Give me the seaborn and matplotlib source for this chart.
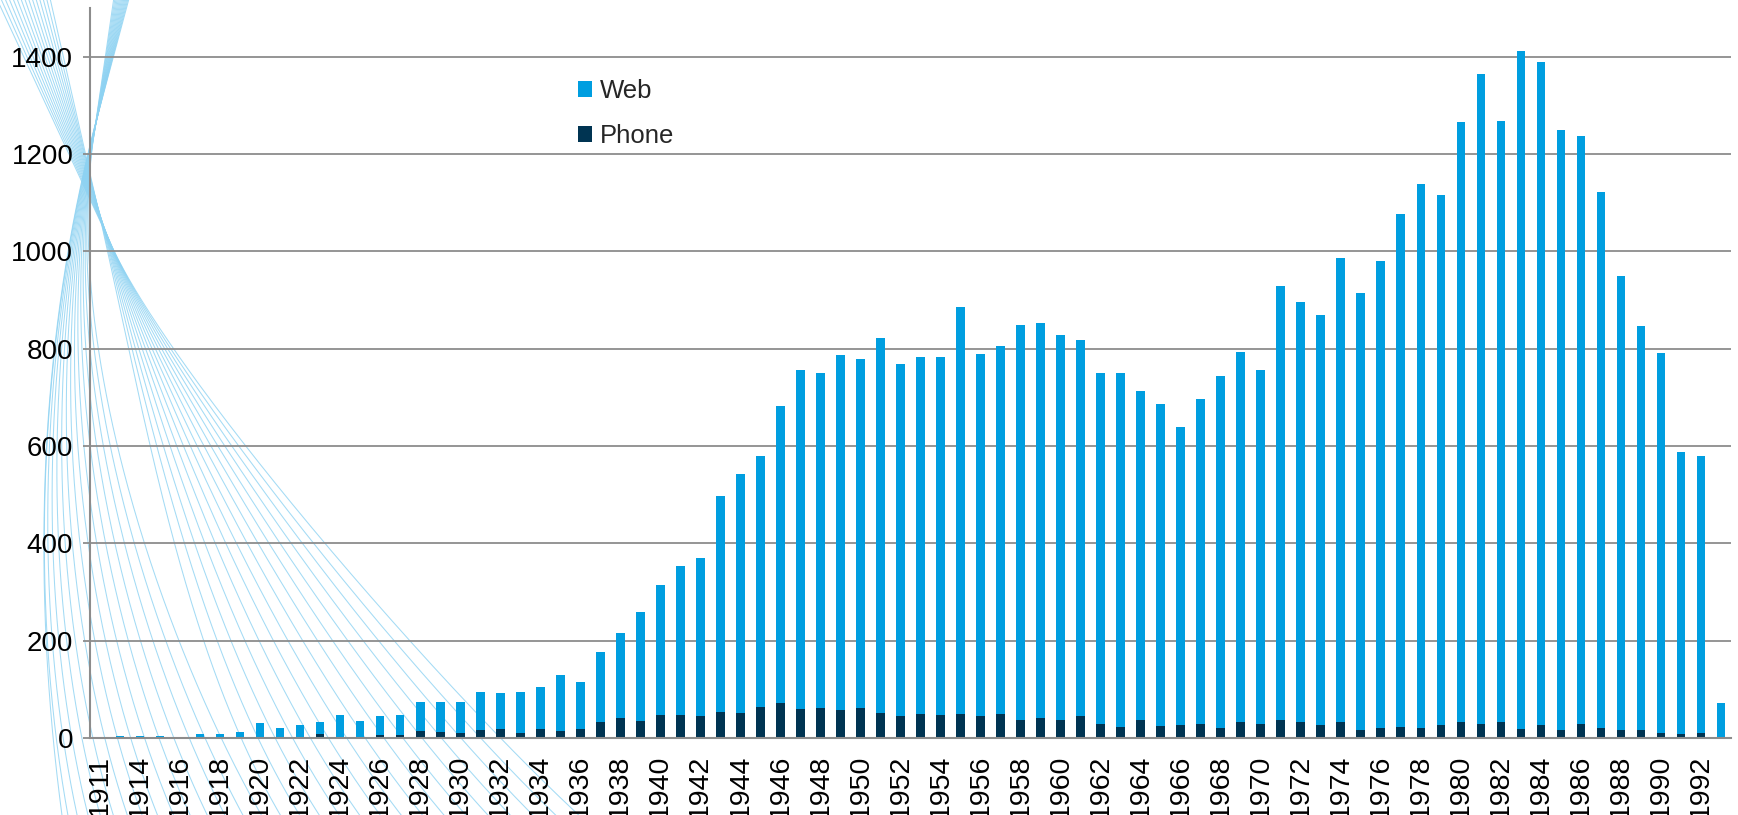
import numpy as np
import pandas as pd
import matplotlib
matplotlib.use("Agg")
import matplotlib.pyplot as plt
import seaborn as sns

# ---------------- data ----------------
years = [1911] + list(range(1913, 1994))
web = [0, 5, 4, 5, 2, 8, 8, 11, 29, 19,
       24, 25, 44, 34, 39, 41, 59, 63, 65, 79,
       75, 85, 85, 115, 97, 144, 173, 225, 268, 306,
       324, 444, 492, 516, 610, 698, 689, 731, 716, 771,
       723, 733, 735, 836, 744, 756, 811, 811, 793, 772,
       721, 728, 678, 662, 614, 669, 722, 761, 729, 893,
       863, 843, 954, 898, 960, 1053, 1118, 1090, 1233, 1337,
       1236, 1393, 1364, 1232, 1209, 1102, 933, 830, 781, 580,
       570, 72]
phone = [0, 0, 0, 0, 0, 0, 0, 1, 1, 1,
         3, 8, 3, 1, 6, 7, 14, 12, 10, 16,
         18, 10, 19, 14, 18, 32, 42, 34, 47, 47,
         45, 53, 51, 64, 72, 59, 61, 57, 62, 51,
         45, 49, 47, 49, 45, 49, 37, 42, 36, 45,
         28, 23, 36, 24, 26, 28, 21, 32, 28, 36,
         32, 26, 32, 16, 20, 23, 21, 26, 32, 28,
         32, 19, 26, 17, 28, 20, 16, 16, 11, 8,
         10, 0]
series_labels = ["Web", "Phone"]
y_ticks = [0, 200, 400, 600, 800, 1000, 1200, 1400]

WEB_C = "#009EE0"
PHONE_C = "#003452"
GRID_C = "#8c8c8c"
DECO_C = "#8dd2f2"

sns.set_theme(style="white")
plt.rcParams["font.family"] = ["Liberation Sans", "DejaVu Sans"]

W, H = 1738, 815
fig = plt.figure(figsize=(W / 100, H / 100), dpi=100)
fig.patch.set_facecolor("white")

# ---------------- decorative background curves (pixel space) ----------------
bg = fig.add_axes([0, 0, 1, 1], zorder=0)
bg.set_xlim(0, W)
bg.set_ylim(H, 0)
bg.axis("off")

def envelope(s):
    q = np.array([92 + 22 * s * s, 161 + 90 * s])
    d = np.array([44 * s, 90.0])
    return q, d / np.linalg.norm(d)

N = 30
t = np.linspace(0, 1, 200)[:, None]
for i in range(N):
    w = i / (N - 1)
    if w < 0.5:
        s = -0.55 + 0.26 * (w / 0.5)
    else:
        s = 0.45 + 0.5 * ((w - 0.5) / 0.5)
    Q, d = envelope(s)
    T = Q - (Q[1] + 20) / d[1] * d
    f = w ** 1.3
    E = np.array([64 + f * 531, 830.0])
    phi = np.radians(8 + 40 * f ** 0.6)
    a = 270 - f * 120
    P1 = Q + a * d
    P2 = E - 200 * np.array([np.sin(phi), np.cos(phi)])
    curve = ((1 - t) ** 3 * Q + 3 * t * (1 - t) ** 2 * P1
             + 3 * t ** 2 * (1 - t) * P2 + t ** 3 * E)
    pts = np.vstack([T[None, :], curve])
    bg.plot(pts[:, 0], pts[:, 1], color=DECO_C, lw=0.75, alpha=0.8)

# ---------------- main chart ----------------
L, R, T_, B_ = 90, 1731, 8, 738
ax = fig.add_axes([L / W, (H - B_) / H, (R - L) / W, (B_ - T_) / H], zorder=1)
ax.patch.set_alpha(0)

df = pd.DataFrame({"year": [str(y) for y in years], "web": web, "phone": phone})
df["total"] = df["web"] + df["phone"]
order = df["year"].tolist()

sns.barplot(data=df, x="year", y="total", order=order, color=WEB_C, saturation=1,
            width=0.43, errorbar=None, linewidth=0, label=series_labels[0], ax=ax)
sns.barplot(data=df, x="year", y="phone", order=order, color=PHONE_C, saturation=1,
            width=0.43, errorbar=None, linewidth=0, label=series_labels[1], ax=ax)

n = len(years)
ax.set_xlim(-0.5, n - 0.5)
ax.set_ylim(0, 1500)
ax.set_xlabel("")
ax.set_ylabel("")

ax.set_yticks(y_ticks)
ax.set_yticklabels([str(v) for v in y_ticks])
ax.yaxis.grid(True, color=GRID_C, lw=1.3)
ax.xaxis.grid(False)
ax.set_axisbelow(True)

major = list(range(0, n, 2))
ax.set_xticks(major)
ax.set_xticklabels([str(years[i]) for i in major], rotation=90)
ax.set_xticks(np.arange(-0.5, n, 1), minor=True)
ax.tick_params(axis="x", which="major", length=0, pad=12, labelsize=20.5, labelcolor="black")
ax.tick_params(axis="x", which="minor", length=6, width=1.3, color=GRID_C, direction="out")
ax.tick_params(axis="y", which="major", length=5, width=1.3, color=GRID_C, pad=7,
               labelsize=20, labelcolor="black", left=True)

for s in ["top", "right"]:
    ax.spines[s].set_visible(False)
for s in ["left", "bottom"]:
    ax.spines[s].set_color(GRID_C)
    ax.spines[s].set_linewidth(1.5)

h, l = ax.get_legend_handles_labels()
leg = ax.legend(h, l, loc="upper left", bbox_to_anchor=(578 / W, (H - 79) / H),
                bbox_transform=fig.transFigure, frameon=False, fontsize=18.5,
                handlelength=0.55, handleheight=0.55, handletextpad=0.3,
                labelspacing=0.82, borderpad=0, borderaxespad=0)

fig.savefig("out.png", dpi=100, facecolor="white")
